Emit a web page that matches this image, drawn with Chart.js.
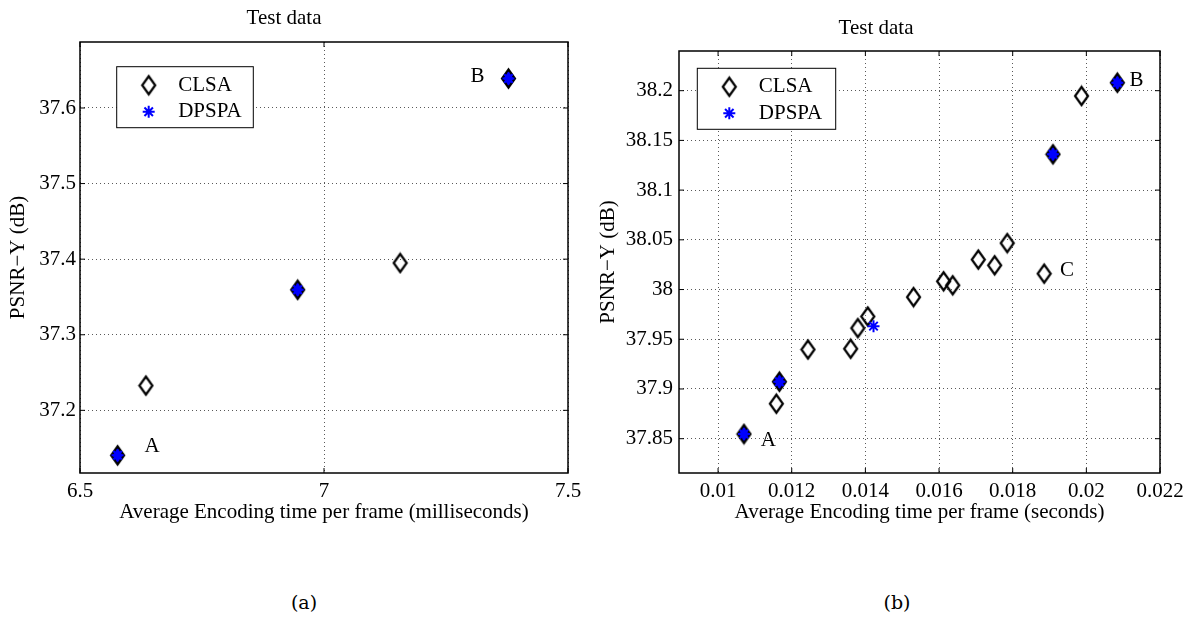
<!DOCTYPE html>
<html>
<head>
<meta charset="utf-8">
<script src="https://cdn.jsdelivr.net/npm/chart.js@4.4.0/dist/chart.umd.min.js"></script>
<style>
  body { margin: 0; background: #fff; width: 1197px; height: 619px; position: relative; overflow: hidden; }
  #wrapA { position: absolute; left: 0; top: 0; width: 600px; height: 560px; }
  #wrapB { position: absolute; left: 592px; top: 0; width: 605px; height: 560px; }
  .cap { position: absolute; top: 591px; width: 100px; line-height: 24px; text-align: center;
         font: 19px 'DejaVu Serif', serif; color: #000; }
</style>
</head>
<body>
<div id="wrapA"><canvas id="chartA"></canvas></div>
<div id="wrapB"><canvas id="chartB"></canvas></div>
<div class="cap" style="left:254px">(a)</div>
<div class="cap" style="left:847px">(b)</div>

<script>
// Panel (a): encoding time in milliseconds
const clsaTimeA = [6.577, 6.635, 6.946, 7.156, 7.378];
const clsaPsnrA = [37.1405, 37.2327, 37.3595, 37.395, 37.639];
const dpspaTimeA = [6.577, 6.946, 7.378];
const dpspaPsnrA = [37.1405, 37.3595, 37.639];
const xTicksA = [6.5, 7, 7.5];
const yTicksA = [37.2, 37.3, 37.4, 37.5, 37.6];
const notesA = [
  { text: 'A', x: 6.6475, y: 37.1516 },
  { text: 'B', x: 7.3148, y: 37.642 }
];

// Panel (b): encoding time in seconds
const clsaTimeB = [0.010703, 0.011583, 0.011665, 0.012441, 0.0136, 0.013796, 0.014065, 0.015307,
  0.016124, 0.016372, 0.017065, 0.01751, 0.017852, 0.018855, 0.019093, 0.019869, 0.020841];
const clsaPsnrB = [37.8547, 37.8852, 37.9073, 37.9397, 37.9404, 37.9612, 37.9729, 37.9924,
  38.0083, 38.0043, 38.0301, 38.0244, 38.0467, 38.016, 38.136, 38.1947, 38.208];
const dpspaTimeB = [0.010703, 0.011665, 0.014221, 0.019093, 0.020841];
const dpspaPsnrB = [37.8547, 37.9073, 37.9632, 38.136, 38.208];
const xTicksB = [0.01, 0.012, 0.014, 0.016, 0.018, 0.02, 0.022];
const yTicksB = [37.85, 37.9, 37.95, 38, 38.05, 38.1, 38.15, 38.2];
const notesB = [
  { text: 'A', x: 0.011365, y: 37.848 },
  { text: 'B', x: 0.021359, y: 38.2107 },
  { text: 'C', x: 0.019477, y: 38.0194 }
];

const FONT = "'Liberation Serif', 'Times New Roman', serif";
Chart.defaults.font.family = FONT;
Chart.defaults.font.size = 21;
Chart.defaults.color = '#000';

// Matlab-style diamond marker (taller than wide)
function diamondImg(fill) {
  const c = document.createElement('canvas');
  c.width = 17; c.height = 23;
  const g = c.getContext('2d');
  g.beginPath();
  g.moveTo(8.5, 2.5); g.lineTo(15, 11.5); g.lineTo(8.5, 20.5); g.lineTo(2, 11.5);
  g.closePath();
  if (fill) { g.fillStyle = fill; g.fill(); }
  g.lineWidth = 2.2; g.strokeStyle = '#000'; g.stroke();
  return c;
}
const openDiamond = diamondImg(null);
const blueDiamond = diamondImg('#0000ff');

function toPoints(xs, ys) {
  return xs.map((x, i) => ({ x, y: ys[i] }));
}

// Black frame with inward tick marks on all four sides
const framePlugin = {
  id: 'frame',
  afterDraw(chart) {
    const { ctx, chartArea: a, scales } = chart;
    ctx.save();
    ctx.strokeStyle = '#000';
    ctx.lineWidth = 1;
    const len = 5;
    scales.x.ticks.forEach(t => {
      const px = scales.x.getPixelForValue(t.value);
      ctx.beginPath();
      ctx.moveTo(px, a.bottom); ctx.lineTo(px, a.bottom - len);
      ctx.moveTo(px, a.top); ctx.lineTo(px, a.top + len);
      ctx.stroke();
    });
    scales.y.ticks.forEach(t => {
      const py = scales.y.getPixelForValue(t.value);
      ctx.beginPath();
      ctx.moveTo(a.left, py); ctx.lineTo(a.left + len, py);
      ctx.moveTo(a.right, py); ctx.lineTo(a.right - len, py);
      ctx.stroke();
    });
    ctx.lineWidth = 1.5;
    ctx.strokeRect(a.left, a.top, a.right - a.left, a.bottom - a.top);
    ctx.restore();
  }
};

// Legend box inside the plot area
const boxLegendPlugin = {
  id: 'boxLegend',
  afterDraw(chart, args, opts) {
    const { ctx, chartArea: a } = chart;
    const bx = a.left + opts.dx, by = a.top + opts.dy;
    ctx.save();
    ctx.fillStyle = '#fff';
    ctx.fillRect(bx, by, opts.w, opts.h);
    ctx.strokeStyle = '#000';
    ctx.lineWidth = 1;
    ctx.strokeRect(bx, by, opts.w, opts.h);
    // diamond
    ctx.drawImage(openDiamond, bx + 32 - openDiamond.width / 2, by + 18.5 - openDiamond.height / 2);
    // asterisk
    const sx = bx + 32, sy = by + 45, r = 6;
    ctx.strokeStyle = '#0000ff';
    ctx.lineWidth = 2;
    ctx.beginPath();
    for (let k = 0; k < 4; k++) {
      const ang = k * Math.PI / 4;
      ctx.moveTo(sx - r * Math.cos(ang), sy - r * Math.sin(ang));
      ctx.lineTo(sx + r * Math.cos(ang), sy + r * Math.sin(ang));
    }
    ctx.stroke();
    ctx.fillStyle = '#000';
    ctx.font = '21px ' + FONT;
    ctx.textAlign = 'left';
    ctx.textBaseline = 'middle';
    ctx.fillText('CLSA', bx + 61.5, by + 18.5);
    ctx.fillText('DPSPA', bx + 61.5, by + 45);
    ctx.restore();
  }
};

// Point annotations A / B / C
const notesPlugin = {
  id: 'notes',
  afterDatasetsDraw(chart, args, opts) {
    const { ctx, scales } = chart;
    ctx.save();
    ctx.fillStyle = '#000';
    ctx.font = '21px ' + FONT;
    ctx.textAlign = 'center';
    ctx.textBaseline = 'middle';
    opts.items.forEach(n => {
      ctx.fillText(n.text, scales.x.getPixelForValue(n.x), scales.y.getPixelForValue(n.y));
    });
    ctx.restore();
  }
};

const fmt = v => String(+Number(v).toFixed(4));

function makeChart(id, cfg) {
  const shared = (x, y) => cfg.dpX.some((dx, j) => Math.abs(dx - x) < 1e-9 && Math.abs(cfg.dpY[j] - y) < 1e-9);
  const clsaPts = toPoints(cfg.clX, cfg.clY);

  return new Chart(document.getElementById(id), {
    type: 'scatter',
    data: {
      datasets: [
        {
          label: 'CLSA',
          data: clsaPts,
          order: 2,
          pointStyle: ctx => {
            const p = clsaPts[ctx.dataIndex];
            return p && shared(p.x, p.y) ? blueDiamond : openDiamond;
          },
          pointRadius: 8,
          pointHoverRadius: 8
        },
        {
          label: 'DPSPA',
          data: toPoints(cfg.dpX, cfg.dpY),
          order: 1,
          pointStyle: 'star',
          pointRadius: 6,
          pointHoverRadius: 6,
          borderColor: '#0000ff',
          backgroundColor: '#0000ff',
          borderWidth: 2
        }
      ]
    },
    options: {
      responsive: true,
      maintainAspectRatio: false,
      animation: false,
      events: [],
      layout: { padding: { left: 0, right: cfg.padRight, top: 0, bottom: 27 } },
      plugins: {
        legend: { display: false },
        tooltip: { enabled: false },
        title: {
          display: true,
          text: 'Test data',
          color: '#000',
          font: { size: 21, weight: 'normal' },
          padding: cfg.titlePad
        },
        boxLegend: cfg.legendBox,
        notes: { items: cfg.notes }
      },
      scales: {
        x: {
          type: 'linear',
          position: 'bottom',
          min: cfg.xMin,
          max: cfg.xMax,
          afterBuildTicks: s => { s.ticks = cfg.xTicks.map(v => ({ value: v })); },
          afterFit: s => { s.height = 60; },
          grid: { color: 'rgba(0,0,0,0.65)', lineWidth: 1, drawTicks: false },
          border: { display: false, dash: [1, 3] },
          ticks: { color: '#000', font: { size: 21 }, padding: 5.7, maxRotation: 0, callback: fmt },
          title: {
            display: true,
            text: cfg.xTitle,
            color: '#000',
            font: { size: 21 },
            padding: { top: 0, bottom: 8.1 }
          }
        },
        y: {
          type: 'linear',
          min: cfg.yMin,
          max: cfg.yMax,
          afterBuildTicks: s => { s.ticks = cfg.yTicks.map(v => ({ value: v })); },
          afterFit: s => { s.width = cfg.yWidth; },
          grid: { color: 'rgba(0,0,0,0.65)', lineWidth: 1, drawTicks: false },
          border: { display: false, dash: [1, 3] },
          ticks: { color: '#000', font: { size: 21 }, padding: cfg.yTickPad, callback: fmt },
          title: {
            display: true,
            text: 'PSNR\u2212Y (dB)',
            color: '#000',
            font: { size: 21 },
            padding: { top: cfg.yTitlePad, bottom: 0 }
          }
        }
      }
    },
    plugins: [framePlugin, boxLegendPlugin, notesPlugin]
  });
}

makeChart('chartA', {
  clX: clsaTimeA, clY: clsaPsnrA, dpX: dpspaTimeA, dpY: dpspaPsnrA,
  xMin: 6.5, xMax: 7.5, yMin: 37.1171, yMax: 37.6873,
  xTicks: xTicksA, yTicks: yTicksA, notes: notesA,
  xTitle: 'Average Encoding time per frame (milliseconds)',
  padRight: 32, yWidth: 80, yTickPad: 4, yTitlePad: 5.4,
  titlePad: { top: 5.7, bottom: 11.1 },
  legendBox: { dx: 36.7, dy: 24.7, w: 136.6, h: 61 }
});

makeChart('chartB', {
  clX: clsaTimeB, clY: clsaPsnrB, dpX: dpspaTimeB, dpY: dpspaPsnrB,
  xMin: 0.008939, xMax: 0.022, yMin: 37.8155, yMax: 38.2399,
  xTicks: xTicksB, yTicks: yTicksB, notes: notesB,
  xTitle: 'Average Encoding time per frame (seconds)',
  padRight: 37, yWidth: 87, yTickPad: 6, yTitlePad: 3.4,
  titlePad: { top: 15.7, bottom: 10.1 },
  legendBox: { dx: 18.3, dy: 17.3, w: 138.4, h: 61 }
});
</script>
</body>
</html>
